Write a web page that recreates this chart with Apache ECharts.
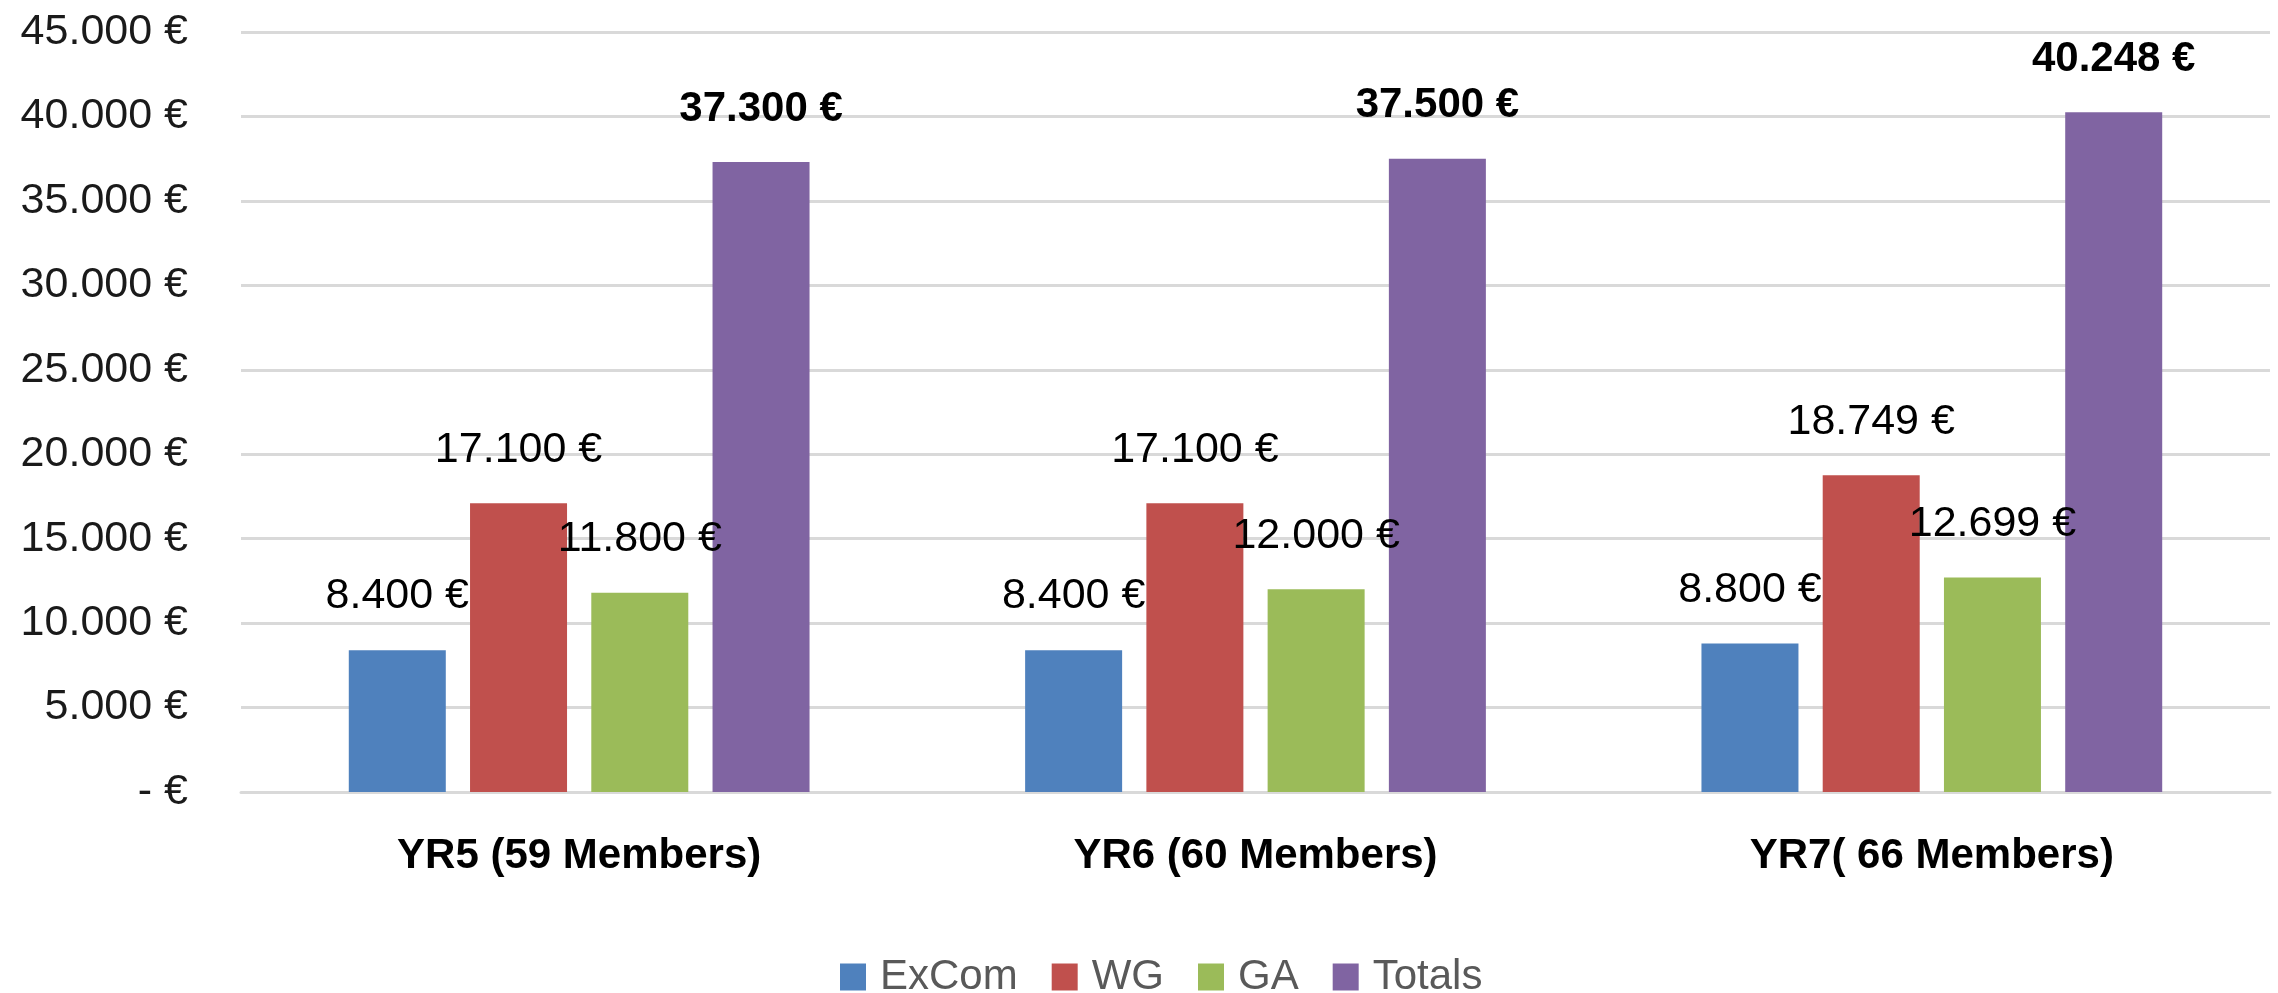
<!DOCTYPE html>
<html>
<head>
<meta charset="utf-8">
<script src="https://cdn.jsdelivr.net/npm/echarts@6/dist/echarts.min.js"></script>
<style>
  html, body { margin: 0; padding: 0; background: #fff; }
  #chart { width: 2278px; height: 993px; }
</style>
</head>
<body>
<div id="chart"></div>
<script>
// data
const categories = ['YR5 (59 Members)', 'YR6 (60 Members)', 'YR7( 66 Members)'];
const excom = [8400, 8400, 8800];
const wg = [17100, 17100, 18749];
const ga = [11800, 12000, 12699];
const totals = [37300, 37500, 40248];

const colors = ['#4f81bd', '#c0504d', '#9bbb59', '#8064a2'];
const font = 'Liberation Sans';

function euro(v){
    if (v === 0) return '- €';
    return String(v).replace(/\B(?=(\d{3})+(?!\d))/g, '.') + ' €';
}

function makeSeries(name, data, bold){
    return {
        name: name,
        type: 'bar',
        data: data,
        barWidth: 97,
        barGap: '25%',
        animation: false,
        label: {
            show: true,
            position: 'top',
            distance: 32,
            formatter: p => euro(p.value),
            fontFamily: font,
            fontSize: bold ? 42 : 43,
            fontWeight: bold ? 'bold' : 'normal',
            color: '#000'
        }
    };
}

const chart = echarts.init(document.getElementById('chart'));
chart.setOption({
    color: colors,
    textStyle: { fontFamily: font },
    grid: { left: 241, right: 8, top: 32, bottom: 201 },
    legend: {
        data: ['ExCom', 'WG', 'GA', 'Totals'],
        top: 951,
        left: 835,
        icon: 'rect',
        itemWidth: 26,
        itemHeight: 27,
        itemGap: 34,
        textStyle: {
            fontFamily: font,
            fontSize: 42,
            color: '#595959',
            padding: [0, 0, 0, 9]
        }
    },
    xAxis: {
        type: 'category',
        data: categories,
        axisTick: { show: false },
        axisLine: { lineStyle: { color: '#d9d9d9', width: 3 } },
        axisLabel: {
            margin: 43,
            fontFamily: font,
            fontSize: 42,
            fontWeight: 'bold',
            color: '#000'
        }
    },
    yAxis: {
        type: 'value',
        min: 0,
        max: 45000,
        interval: 5000,
        axisLine: { show: false },
        axisTick: { show: false },
        splitLine: { lineStyle: { color: '#d9d9d9', width: 3 } },
        axisLabel: {
            margin: 53,
            fontFamily: font,
            fontSize: 43,
            color: '#1a1a1a',
            formatter: euro
        }
    },
    series: [
        makeSeries('ExCom', excom, false),
        makeSeries('WG', wg, false),
        makeSeries('GA', ga, false),
        makeSeries('Totals', totals, true)
    ]
});
</script>
</body>
</html>
